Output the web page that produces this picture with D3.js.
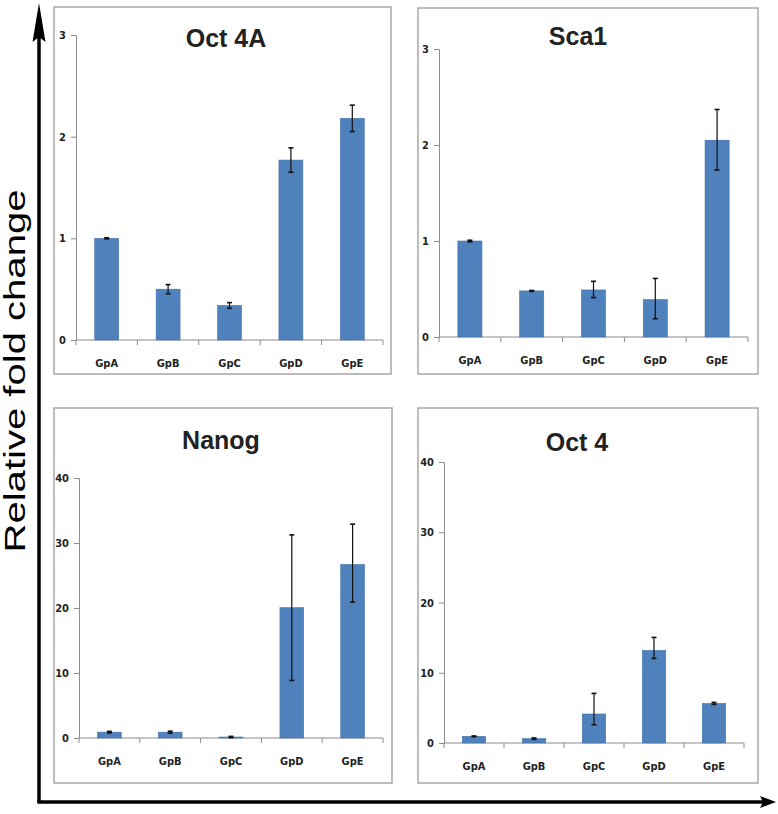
<!DOCTYPE html>
<html>
<head>
<meta charset="utf-8">
<script src="https://cdn.jsdelivr.net/npm/d3@7"></script>
<style>
  html, body { margin: 0; padding: 0; background: #fff; }
  svg { display: block; }
</style>
</head>
<body>
<svg id="chart" width="778" height="814"></svg>
<script>
// ---- data ----
const categories = ["GpA", "GpB", "GpC", "GpD", "GpE"];
const panelTitles = ["Oct 4A", "Sca1", "Nanog", "Oct 4"];
const yAxisLabel = "Relative fold change";

const oct4AValues  = [1.00, 0.50, 0.34, 1.77, 2.18];
const oct4AErrUp   = [0.005, 0.045, 0.028, 0.12, 0.13];
const oct4AErrDown = [0.005, 0.045, 0.028, 0.12, 0.13];

const sca1Values   = [1.00, 0.48, 0.49, 0.39, 2.05];
const sca1ErrUp    = [0.008, 0.005, 0.09, 0.22, 0.32];
const sca1ErrDown  = [0.008, 0.005, 0.08, 0.20, 0.31];

const nanogValues  = [0.9, 0.9, 0.15, 20.05, 26.7];
const nanogErrUp   = [0.12, 0.15, 0.1, 11.2, 6.2];
const nanogErrDown = [0.12, 0.15, 0.1, 11.2, 5.8];

const oct4Values   = [0.95, 0.62, 4.13, 13.18, 5.64];
const oct4ErrUp    = [0.05, 0.10, 2.93, 1.85, 0.14];
const oct4ErrDown  = [0.05, 0.10, 1.53, 1.14, 0.14];

const smallTicks = [0, 1, 2, 3];
const largeTicks = [0, 10, 20, 30, 40];

// ---- layout (positions only) ----
const layouts = [
  { frame: [54, 7, 391, 374],  x0: 76,  x1: 383, y0: 340, y1: 35,  titleX: 226, titleY: 47 },
  { frame: [418, 8, 758, 374], x0: 439, x1: 748, y0: 337, y1: 49,  titleX: 578, titleY: 45 },
  { frame: [54, 408, 392, 783], x0: 79, x1: 383, y0: 738, y1: 478, titleX: 221, titleY: 449 },
  { frame: [418, 408, 758, 783], x0: 444, x1: 744, y0: 743, y1: 462, titleX: 577, titleY: 451 }
];

const panels = [
  { title: panelTitles[0], values: oct4AValues, up: oct4AErrUp, down: oct4AErrDown, ticks: smallTicks },
  { title: panelTitles[1], values: sca1Values,  up: sca1ErrUp,  down: sca1ErrDown,  ticks: smallTicks },
  { title: panelTitles[2], values: nanogValues, up: nanogErrUp, down: nanogErrDown, ticks: largeTicks },
  { title: panelTitles[3], values: oct4Values,  up: oct4ErrUp,  down: oct4ErrDown,  ticks: largeTicks }
];

const svg = d3.select("#chart");
const barColor = "#4F81BD";
const axisColor = "#8c8c8c";
const tickFont = "'Liberation Sans Narrow', 'DejaVu Sans Condensed', 'Arial Narrow', sans-serif";

panels.forEach((p, i) => {
  const L = layouts[i];
  const g = svg.append("g");

  // frame
  g.append("rect")
    .attr("x", L.frame[0]).attr("y", L.frame[1])
    .attr("width", L.frame[2] - L.frame[0]).attr("height", L.frame[3] - L.frame[1])
    .attr("fill", "#fff").attr("stroke", "#a6a6a6").attr("stroke-width", 1.5);

  const x = d3.scaleBand().domain(categories).range([L.x0, L.x1]).padding(0);
  const y = d3.scaleLinear().domain([0, d3.max(p.ticks)]).range([L.y0, L.y1]);

  // y axis
  const yAxis = d3.axisLeft(y).tickValues(p.ticks).tickSize(5).tickPadding(5).tickFormat(d3.format("d"));
  const yg = g.append("g").attr("transform", `translate(${L.x0},0)`).call(yAxis);
  yg.select(".domain").attr("stroke", axisColor).attr("stroke-width", 1);
  yg.selectAll(".tick line").attr("stroke", axisColor);
  yg.selectAll(".tick text")
    .attr("font-family", tickFont).attr("font-size", 11).attr("font-weight", "bold").attr("fill", "#222");

  // x axis line and boundary ticks
  const xg = g.append("g");
  xg.append("line")
    .attr("x1", L.x0).attr("x2", L.x1).attr("y1", y(0)).attr("y2", y(0))
    .attr("stroke", axisColor).attr("stroke-width", 1.2);
  const bounds = categories.map(c => x(c)).concat([x(categories[categories.length - 1]) + x.bandwidth()]);
  xg.selectAll("line.bt").data(bounds).join("line").attr("class", "bt")
    .attr("x1", d => d).attr("x2", d => d).attr("y1", y(0)).attr("y2", y(0) + 5)
    .attr("stroke", axisColor).attr("stroke-width", 1);
  xg.selectAll("text").data(categories).join("text")
    .attr("x", d => x(d) + x.bandwidth() / 2)
    .attr("y", y(0) + 27)
    .attr("text-anchor", "middle")
    .attr("font-family", tickFont).attr("font-size", 11).attr("font-weight", "bold").attr("fill", "#222")
    .text(d => d);

  // bars
  const barW = x.bandwidth() * 0.39;
  g.selectAll("rect.bar").data(p.values).join("rect").attr("class", "bar")
    .attr("x", (d, j) => x(categories[j]) + (x.bandwidth() - barW) / 2)
    .attr("width", barW)
    .attr("y", d => y(d))
    .attr("height", d => y(0) - y(d))
    .attr("fill", barColor)
    .attr("stroke", "#4373ad").attr("stroke-width", 0.6);

  // error bars
  const eg = g.append("g").attr("stroke", "#111").attr("stroke-width", 1.2);
  p.values.forEach((v, j) => {
    const cx = x(categories[j]) + x.bandwidth() / 2;
    const top = y(v + p.up[j]);
    const bot = y(v - p.down[j]);
    eg.append("line").attr("x1", cx).attr("x2", cx).attr("y1", top).attr("y2", bot);
    eg.append("line").attr("x1", cx - 2.5).attr("x2", cx + 2.5).attr("y1", top).attr("y2", top).attr("stroke-width", 1.6);
    eg.append("line").attr("x1", cx - 2.5).attr("x2", cx + 2.5).attr("y1", bot).attr("y2", bot).attr("stroke-width", 1.6);
  });

  // title
  g.append("text")
    .attr("x", L.titleX).attr("y", L.titleY)
    .attr("text-anchor", "middle")
    .attr("font-family", "'Liberation Sans', Arial, sans-serif")
    .attr("font-weight", "bold").attr("font-size", 25).attr("fill", "#222")
    .text(p.title);
});

// big axes arrows
svg.append("line").attr("x1", 39).attr("x2", 39).attr("y1", 36).attr("y2", 803)
  .attr("stroke", "#000").attr("stroke-width", 3.5);
svg.append("path").attr("d", "M39,3 L45.5,42 L39,37 L32.5,42 Z").attr("fill", "#000");
svg.append("line").attr("x1", 37.5).attr("x2", 764).attr("y1", 802).attr("y2", 802)
  .attr("stroke", "#000").attr("stroke-width", 3.5);
svg.append("path").attr("d", "M776,802 L760,796 L763,802 L760,808 Z").attr("fill", "#000");

// y label
svg.append("text")
  .attr("transform", "translate(25,371) rotate(-90)")
  .attr("text-anchor", "middle")
  .attr("font-family", "'Liberation Sans', Arial, sans-serif")
  .attr("font-size", 29).attr("fill", "#000")
  .attr("textLength", 363).attr("lengthAdjust", "spacingAndGlyphs")
  .text(yAxisLabel);
</script>
</body>
</html>
